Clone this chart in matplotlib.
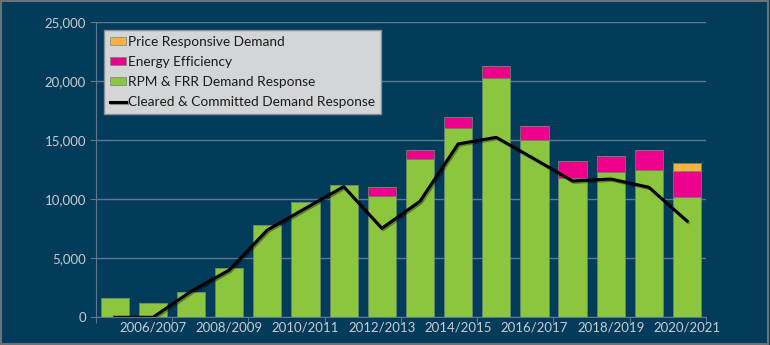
import matplotlib.pyplot as plt
import matplotlib.patheffects as pe
from matplotlib.patches import Rectangle
from matplotlib.ticker import FuncFormatter
import numpy as np

years = ['2005/2006', '2006/2007', '2007/2008', '2008/2009', '2009/2010',
         '2010/2011', '2011/2012', '2012/2013', '2013/2014', '2014/2015',
         '2015/2016', '2016/2017', '2017/2018', '2018/2019', '2019/2020',
         '2020/2021']
rpm_frr = [1600, 1240, 2170, 4200, 7820, 9800, 11190, 10310, 13420, 16040,
           20310, 15030, 11830, 12310, 12460, 10200]
energy_eff = [0, 0, 0, 0, 0, 0, 0, 710, 780, 910, 990, 1160, 1390, 1360, 1690, 2230]
price_resp = [0, 0, 0, 0, 0, 0, 0, 0, 0, 0, 0, 0, 0, 0, 0, 620]
cleared = [0, 0, 2200, 4000, 7400, 9240, 11070, 7540, 9830, 14690, 15250,
           13420, 11550, 11720, 11020, 8160]

bg = '#033b5b'
green = '#8cc63f'
pink = '#ec008c'
orange = '#fbb040'
grid_col = '#5d7890'
txt = '#c9ccd0'

plt.rcParams['font.family'] = ['Lato', 'DejaVu Sans']

fig = plt.figure(figsize=(7.7, 3.45), dpi=100, facecolor=bg)
ax = fig.add_axes([0.1243, 0.0803, 0.7927, 0.8551], facecolor=bg)

x = np.arange(len(years))
w = 0.74
edge = dict(edgecolor='#6f8a70', linewidth=0.5)
ax.bar(x, rpm_frr, w, color=green, label='RPM & FRR Demand Response', zorder=2, **edge)
ax.bar(x, energy_eff, w, bottom=rpm_frr, color=pink, label='Energy Efficiency', zorder=2, **edge)
bottom2 = np.array(rpm_frr) + np.array(energy_eff)
ax.bar(x, price_resp, w, bottom=bottom2, color=orange, label='Price Responsive Demand', zorder=2, **edge)
ax.plot(x, cleared, color='black', lw=2.2, zorder=3,
        label='Cleared & Committed Demand Response',
        path_effects=[pe.SimpleLineShadow(offset=(1, -1), shadow_color='black', alpha=0.35),
                      pe.Normal()])

ax.set_xlim(-0.5, len(years) - 0.5)
ax.set_ylim(0, 25000)
ax.set_yticks(np.arange(0, 25001, 5000))
ax.yaxis.set_major_formatter(FuncFormatter(lambda v, p: f'{int(v):,}'))
ax.grid(axis='y', color=grid_col, lw=1, zorder=0)

# tick marks on every other slot boundary, labels on every other year
ax.set_xticks(np.arange(-0.5, len(years), 2))
ax.set_xticklabels([])
ax.set_xticks(x[1::2], minor=True)
ax.set_xticklabels(years[1::2], minor=True)
ax.tick_params(axis='x', which='major', length=4, color=grid_col, direction='out')
ax.tick_params(axis='x', which='minor', length=0, pad=3, labelsize=9.5, labelcolor=txt)
ax.tick_params(axis='y', length=4, color=grid_col, labelsize=9.5, labelcolor=txt, pad=3)

for s in ['top', 'right']:
    ax.spines[s].set_visible(False)
for s in ['left', 'bottom']:
    ax.spines[s].set_color(grid_col)

handles, labels = ax.get_legend_handles_labels()
order = [3, 2, 1, 0]
leg = ax.legend([handles[i] for i in order], [labels[i] for i in order],
                loc='upper left', bbox_to_anchor=(0.013, 0.975), fontsize=9.8,
                frameon=True, fancybox=False, facecolor='#d4d5d7', edgecolor='#8a8f96',
                framealpha=1, handlelength=1.2, handleheight=0.5, handletextpad=0.15,
                borderpad=0.45, labelspacing=0.6, borderaxespad=0)
leg.get_frame().set_linewidth(1)
for t in leg.get_texts():
    t.set_color('#1a1a1a')

fig.patches.append(Rectangle((0.001, 0.003), 0.997, 0.994, transform=fig.transFigure,
                             fill=False, edgecolor='#6d7278', lw=1.5))

fig.savefig('out.png', dpi=100, facecolor=bg)
